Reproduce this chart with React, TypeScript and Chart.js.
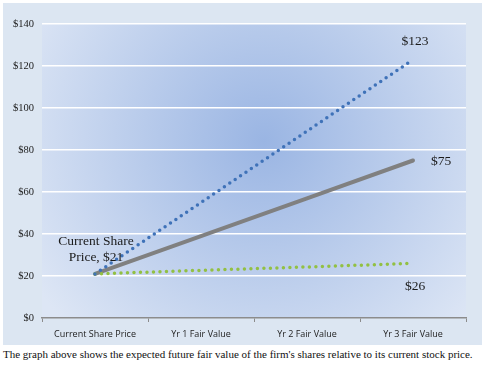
import React, { useEffect, useRef } from "react";
import { Chart, registerables } from "chart.js";

Chart.register(...registerables);

const categories = ["Current Share Price", "Yr 1 Fair Value", "Yr 2 Fair Value", "Yr 3 Fair Value"];
const highCase = [21, 55, 89, 123];
const baseCase = [21, 39, 57, 75];
const lowCase = [21, 22.7, 24.3, 26];
const yTicks = [0, 20, 40, 60, 80, 100, 120, 140];
const caption = "The graph above shows the expected future fair value of the firm's shares relative to its current stock price.";

const bgPlugin = {
  id: "bgPlugin",
  beforeDraw(chart: any) {
    const { ctx, chartArea } = chart;
    ctx.save();
    ctx.fillStyle = "#dce6f2";
    ctx.fillRect(3, 3, 479, 342);
    const { left, top, right, bottom } = chartArea;
    const cx = (left + right) / 2 + 10;
    const cy = (top + bottom) / 2 - 30;
    const g = ctx.createRadialGradient(cx, cy, 0, cx, cy, 270);
    g.addColorStop(0, "#9ab5e3");
    g.addColorStop(1, "#dde6f5");
    ctx.fillStyle = g;
    ctx.fillRect(left, top, right - left, bottom - top);
    ctx.restore();
  },
  afterDraw(chart: any) {
    const { ctx } = chart;
    const x = chart.scales.x;
    const y = chart.scales.y;
    ctx.save();
    ctx.fillStyle = "#1a1a1a";
    ctx.font = "13.5px 'Liberation Serif'";
    ctx.textAlign = "center";
    ctx.textBaseline = "middle";
    const x3 = x.getPixelForValue(3);
    const x0 = x.getPixelForValue(0);
    ctx.fillText("$" + highCase[3], x3 + 2, y.getPixelForValue(highCase[3]) - 18);
    ctx.fillText("$" + baseCase[3], x3 + 28, y.getPixelForValue(baseCase[3]) + 1);
    ctx.fillText("$" + lowCase[3], x3 + 2, y.getPixelForValue(lowCase[3]) + 23);
    ctx.fillText("Current Share", x0 + 1, y.getPixelForValue(highCase[0]) - 32);
    ctx.fillText("Price, $" + highCase[0], x0 + 1, y.getPixelForValue(highCase[0]) - 16);
    ctx.restore();
  },
};

export default function App() {
  const ref = useRef<HTMLCanvasElement>(null);
  useEffect(() => {
    document.body.style.margin = "0";
    const chart = new Chart(ref.current!, {
      type: "line",
      data: {
        labels: categories,
        datasets: [
          {
            data: highCase,
            borderColor: "#3f72b8",
            borderWidth: 3.5,
            borderDash: [0, 6.5],
            borderCapStyle: "round",
            pointRadius: 0,
            tension: 0,
          },
          {
            data: lowCase,
            borderColor: "#92c043",
            borderWidth: 3.5,
            borderDash: [0, 6.5],
            borderCapStyle: "round",
            pointRadius: 0,
            tension: 0,
          },
          {
            data: baseCase,
            borderColor: "#808080",
            borderWidth: 4,
            borderCapStyle: "round",
            pointRadius: 0,
            tension: 0,
          },
        ],
      },
      options: {
        animation: false,
        responsive: false,
        layout: { padding: { left: 0, right: 24, top: 24, bottom: 0 } },
        plugins: { legend: { display: false }, tooltip: { enabled: false } },
        scales: {
          x: {
            offset: true,
            grid: { drawOnChartArea: false, drawTicks: true, tickLength: 4, color: "#8c8c8c", offset: true },
            border: { color: "#8c8c8c", width: 1.5 },
            ticks: { color: "#222", font: { family: "'Open Sans'", size: 9 }, padding: 7, maxRotation: 0 },
            afterFit: (s: any) => { s.height = 30; },
          },
          y: {
            min: 0,
            max: 140,
            afterBuildTicks: (s: any) => { s.ticks = yTicks.map((v) => ({ value: v })); },
            grid: {
              color: (c: any) => (c.tick && c.tick.value === 0 ? "rgba(0,0,0,0)" : "#ffffff"),
              lineWidth: 1.5,
              drawTicks: false,
            },
            border: { display: false },
            ticks: {
              color: "#222",
              font: { family: "'Liberation Serif'", size: 10.5 },
              padding: 8,
              callback: (v: any) => "$" + v,
            },
            afterFit: (s: any) => { s.width = 42; },
          },
        },
      },
      plugins: [bgPlugin],
    });
    return () => chart.destroy();
  }, []);
  return (
    <div style={{ position: "relative", width: 490, height: 365 }}>
      <canvas ref={ref} width={490} height={348} style={{ display: "block" }} />
      <div
        style={{
          position: "absolute",
          left: 3,
          top: 348,
          fontFamily: "'Liberation Serif'",
          fontSize: 11,
          color: "#111",
          whiteSpace: "nowrap",
        }}
      >
        {caption}
      </div>
    </div>
  );
}
